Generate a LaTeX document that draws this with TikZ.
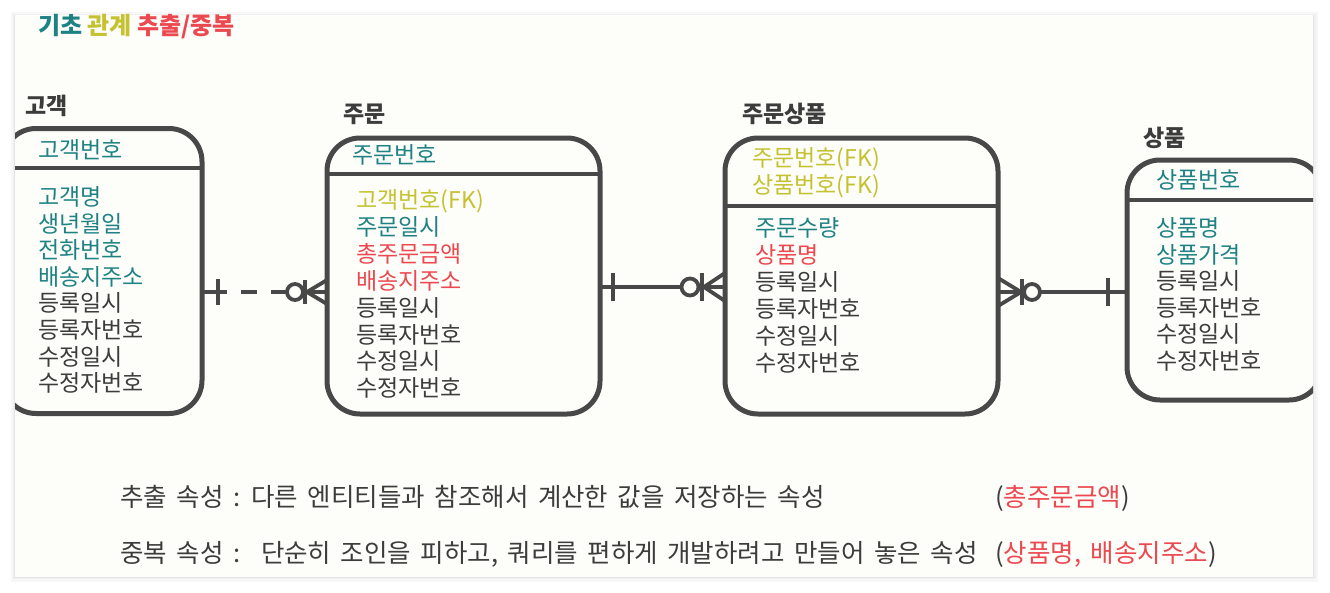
\documentclass[tikz,border=0pt]{standalone}
\usepackage{fontspec}
\usetikzlibrary{calc}
\newfontfamily\kr{Noto Sans CJK KR}
\newcommand\krnotefont{\kr\fontsize{25.5}{29}\selectfont\spaceskip 9.5pt\relax}
\definecolor{kteal}{RGB}{30,130,132}
\definecolor{kolive}{RGB}{196,194,48}
\definecolor{kred}{RGB}{236,72,80}
\definecolor{kdark}{RGB}{60,60,60}
\definecolor{kline}{RGB}{72,72,72}
\definecolor{kpanel}{RGB}{253,253,249}
\tikzset{
  entity/.style={draw=kline, line width=5pt, rounded corners=33pt, fill=kpanel, outer sep=0pt, inner sep=0pt},
  divider/.style={draw=kline, line width=4.5pt},
  attr/.style={anchor=base west, inner sep=0pt, font=\kr\fontsize{23}{27}\selectfont},
  etitle/.style={anchor=base west, inner sep=0pt, text=kdark, font=\kr\bfseries\fontsize{23}{27}\selectfont},
  note/.style={anchor=base west, inner sep=0pt, text=kdark, font=\krnotefont},
  rel/.style={draw=kline, line width=3.8pt},
}
\begin{document}
\begin{tikzpicture}[x=1pt,y=-1pt]
\useasboundingbox (0,0) rectangle (1330,592);
\fill[white] (0,0) rectangle (1330,592);
% panel shadow
\fill[black!3] (11,12) rectangle (1318,582);
\fill[black!6] (13,14) rectangle (1316,579);
\fill[black!10] (14,15) rectangle (1314,578);
\fill[kpanel] (15,15) rectangle (1313,577);
% title
\node[anchor=base west, inner sep=0pt, font=\kr\bfseries\fontsize{24}{28}\selectfont] (title) at (38,34)
  {\textcolor{kteal}{기초} \textcolor{kolive}{관계} \textcolor{kred}{추출/중복}};
% entity titles
\node[etitle] (t-cust) at (25,114) {고객};
\node[etitle] (t-order) at (343,122) {주문};
\node[etitle] (t-item) at (742,122) {주문상품};
\node[etitle] (t-prod) at (1143,146) {상품};
\begin{scope}
\clip (15,15) rectangle (1313,577);
\node[entity, minimum width=199pt, minimum height=285pt] (cust) at (102.5,271) {};
\node[entity, minimum width=273pt, minimum height=276pt] (order) at (463.5,276) {};
\node[entity, minimum width=273pt, minimum height=276pt] (item) at (861.5,276) {};
\node[entity, minimum width=195pt, minimum height=240pt] (prod) at (1224.5,280) {};
\draw[divider] (cust.west |- 0,168) -- (cust.east |- 0,168);
\draw[divider] (order.west |- 0,174) -- (order.east |- 0,174);
\draw[divider] (item.west |- 0,206) -- (item.east |- 0,206);
\draw[divider] (prod.west |- 0,200) -- (prod.east |- 0,200);
\end{scope}
% attributes: customer
\node[attr, text=kteal] (cust-k) at (38,158.5) {고객번호};
\foreach \c/\t [count=\i from 0] in {kteal/고객명, kteal/생년월일, kteal/전화번호, kteal/배송지주소, kdark/등록일시, kdark/등록자번호, kdark/수정일시, kdark/수정자번호}
  \node[attr, text=\c] (cust-a\i) at (38,{205.5+26.6*\i}) {\t};
% order
\node[attr, text=kteal] (order-k) at (352,163.5) {주문번호};
\foreach \c/\t [count=\i from 0] in {kolive/고객번호(FK), kteal/주문일시, kred/총주문금액, kred/배송지주소, kdark/등록일시, kdark/등록자번호, kdark/수정일시, kdark/수정자번호}
  \node[attr, text=\c] (order-a\i) at (356,{208.5+26.9*\i}) {\t};
% order item
\node[attr, text=kolive] (item-k1) at (752,166.5) {주문번호(FK)};
\node[attr, text=kolive] (item-k2) at (752,193.5) {상품번호(FK)};
\foreach \c/\t [count=\i from 0] in {kteal/주문수량, kred/상품명, kdark/등록일시, kdark/등록자번호, kdark/수정일시, kdark/수정자번호}
  \node[attr, text=\c] (item-a\i) at (755,{236.5+27*\i}) {\t};
% product
\node[attr, text=kteal] (prod-k) at (1156,188.5) {상품번호};
\foreach \c/\t [count=\i from 0] in {kteal/상품명, kteal/상품가격, kdark/등록일시, kdark/등록자번호, kdark/수정일시, kdark/수정자번호}
  \node[attr, text=\c] (prod-a\i) at (1156,{236.5+26.6*\i}) {\t};
% relation 1: customer -- order (dashed, one to zero-or-many)
\coordinate (r1a) at (cust.east |- 0,292);
\coordinate (r1b) at (order.west |- 0,292);
\coordinate (r1c) at ($(r1b)+(-32,0)$);
\draw[rel, dash pattern=on 25pt off 14pt on 16pt off 14pt on 30pt] (r1a) -- ($(r1c)+(-8,0)$);
\draw[rel] ($(r1a)+(16,-13)$) -- ($(r1a)+(16,13)$);
\draw[rel] (r1c) circle (8pt);
\draw[rel] ($(r1c)+(8,0)$) -- (r1b);
\draw[rel] ($(r1b)+(-22,-12)$) -- ($(r1b)+(-22,12)$);
\draw[rel] ($(r1b)+(0,-12)$) -- ($(r1b)+(-20,0)$) -- ($(r1b)+(0,12)$);
% relation 2: order -- order item
\coordinate (r2a) at (order.east |- 0,287);
\coordinate (r2b) at (item.west |- 0,287);
\coordinate (r2c) at ($(r2b)+(-35,0)$);
\draw[rel] (r2a) -- ($(r2c)+(-8.5,0)$);
\draw[rel] ($(r2a)+(13,-14)$) -- ($(r2a)+(13,14)$);
\draw[rel] (r2c) circle (8.5pt);
\draw[rel] ($(r2c)+(8.5,0)$) -- (r2b);
\draw[rel] ($(r2b)+(-23,-14)$) -- ($(r2b)+(-23,14)$);
\draw[rel] ($(r2b)+(0,-14)$) -- ($(r2b)+(-21,0)$) -- ($(r2b)+(0,14)$);
% relation 3: order item -- product
\coordinate (r3a) at (item.east |- 0,292);
\coordinate (r3b) at (prod.west |- 0,292);
\coordinate (r3c) at ($(r3a)+(34,0)$);
\draw[rel] (r3a) -- ($(r3c)+(-8,0)$);
\draw[rel] ($(r3a)+(0,-14)$) -- ($(r3a)+(23,0)$) -- ($(r3a)+(0,14)$);
\draw[rel] ($(r3a)+(24,-13)$) -- ($(r3a)+(24,13)$);
\draw[rel] (r3c) circle (8pt);
\draw[rel] ($(r3c)+(8,0)$) -- (r3b);
\draw[rel] ($(r3b)+(-19,-14)$) -- ($(r3b)+(-19,14)$);
% notes
\node[note] (n1) at (120,506) {추출 속성 : 다른 엔티티들과 참조해서 계산한 값을 저장하는 속성};
\node[note] (n1p) at (995,506) {(\textcolor{kred}{총주문금액})};
\node[note] (n2) at (120,562) {중복 속성 :~ 단순히 조인을 피하고, 쿼리를 편하게 개발하려고 만들어 놓은 속성};
\node[note] (n2p) at (995,562) {(\textcolor{kred}{상품명, 배송지주소})};
\end{tikzpicture}
\end{document}
